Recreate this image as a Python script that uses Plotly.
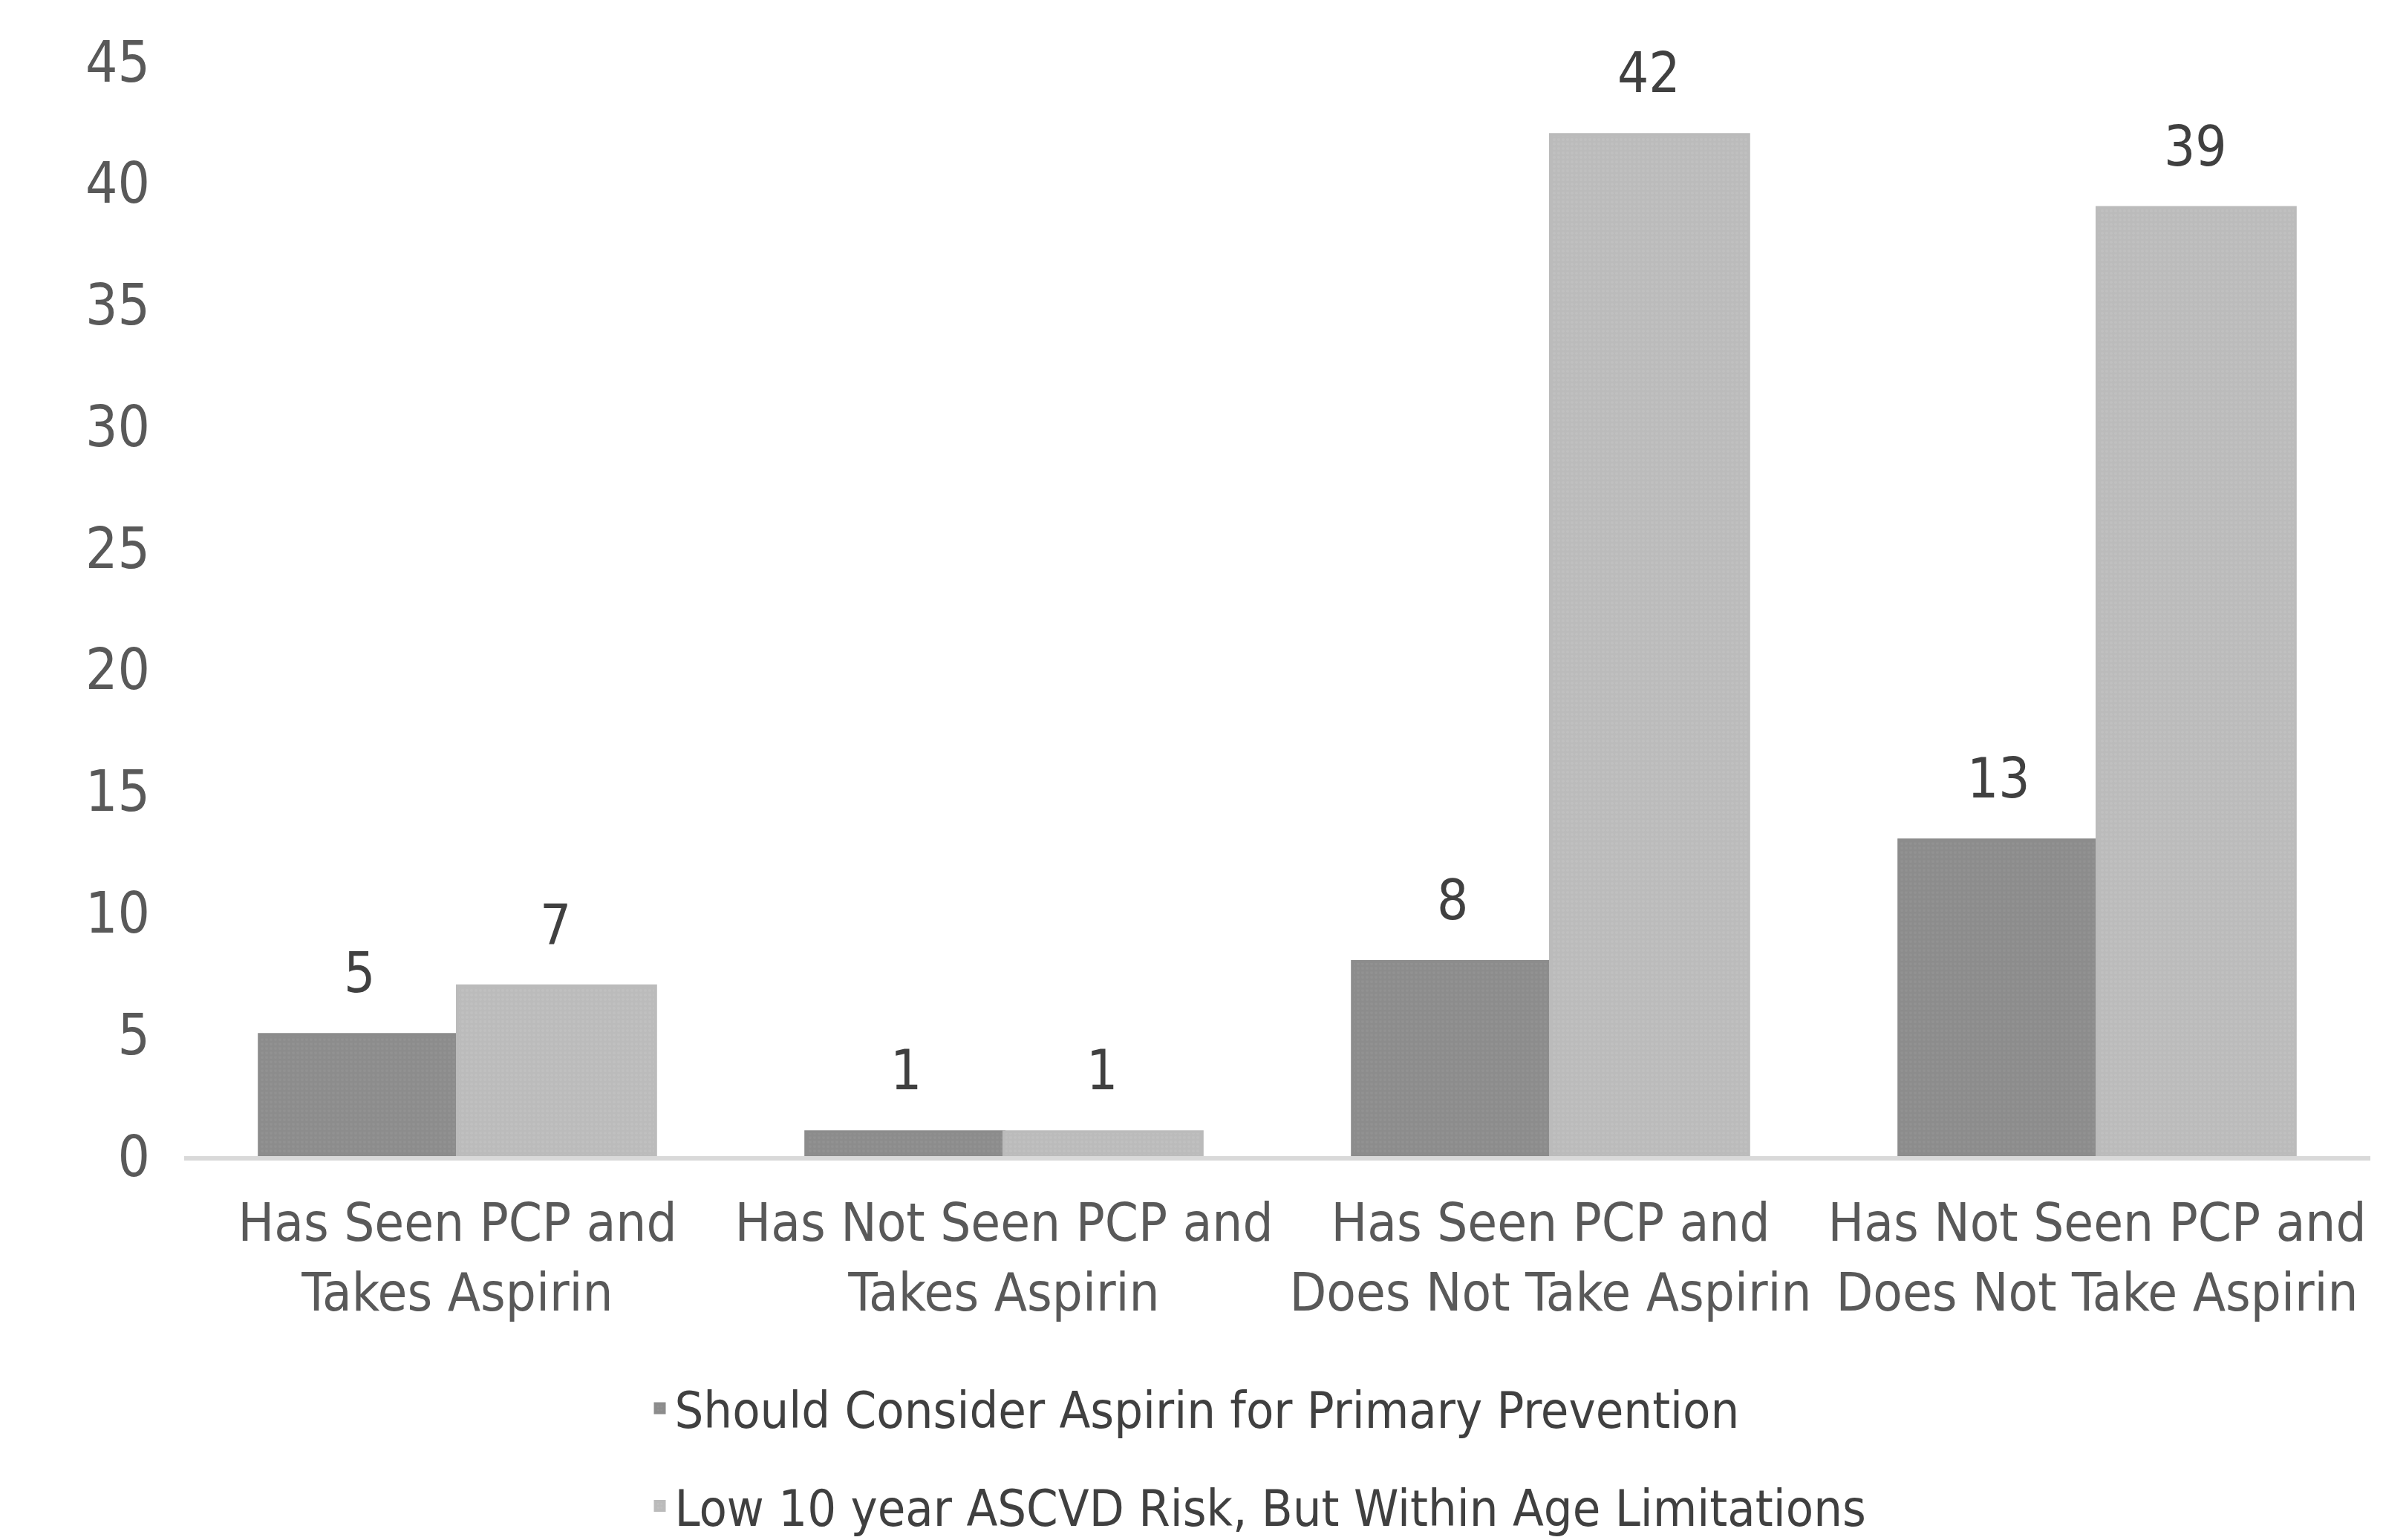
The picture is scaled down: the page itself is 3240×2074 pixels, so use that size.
import plotly.graph_objects as go

# Patient groups along the x axis (two-line tick labels)
categories = [
    "Has Seen PCP and<br>Takes Aspirin",
    "Has Not Seen PCP and<br>Takes Aspirin",
    "Has Seen PCP and<br>Does Not Take Aspirin",
    "Has Not Seen PCP and<br>Does Not Take Aspirin",
]
series_names = [
    "Should Consider Aspirin for Primary Prevention",
    "Low 10 year ASCVD Risk, But Within Age Limitations",
]
should_consider = [5, 1, 8, 13]
low_risk = [7, 1, 42, 39]
y_ticks = [0, 5, 10, 15, 20, 25, 30, 35, 40, 45]

FONT = "Liberation Sans Narrow, Arial Narrow, DejaVu Sans Condensed, sans-serif"

fig = go.Figure()
fig.add_trace(go.Bar(
    x=categories, y=should_consider, name=series_names[0],
    marker=dict(color="#8c8c8c", line=dict(width=4, color="#8c8c8c"),
                pattern=dict(shape=".", fgcolor="#979797", size=6, solidity=0.3)),
    legendgroup="a",
))
fig.add_trace(go.Bar(
    x=categories, y=low_risk, name=series_names[1],
    marker=dict(color="#bbbbbb", line=dict(width=4, color="#bbbbbb"),
                pattern=dict(shape=".", fgcolor="#c6c6c6", size=6, solidity=0.3)),
    legendgroup="b",
))

# Value labels above each bar
for offset, vals in ((-0.18, should_consider), (0.18, low_risk)):
    for i, v in enumerate(vals):
        fig.add_annotation(
            x=i + offset, y=v, text=str(v), showarrow=False,
            yanchor="bottom", yshift=38,
            font=dict(family=FONT, size=74, color="#404040"),
        )

fig.update_layout(
    width=3240, height=2074,
    paper_bgcolor="white", plot_bgcolor="white",
    margin=dict(l=248, r=48, t=83, b=517, autoexpand=False),
    barmode="group", bargap=0.275, bargroupgap=0,
    font=dict(family=FONT, size=72, color="#595959"),
    showlegend=True,
    legend=dict(
        orientation="v", xanchor="center", x=0.491,
        yanchor="top", y=-0.196, traceorder="grouped", tracegroupgap=40,
        font=dict(family=FONT, size=68, color="#404040"),
        itemwidth=30, bgcolor="rgba(0,0,0,0)",
    ),
)
fig.update_xaxes(
    showline=True, linecolor="#d9d9d9", linewidth=6,
    showgrid=False, ticks="", ticklabelstandoff=22,
    tickfont=dict(family=FONT, size=72, color="#595959"),
)
fig.update_yaxes(
    range=[0, 45], tickvals=y_ticks, showgrid=False, zeroline=False,
    showline=False, ticks="", ticklabelstandoff=45,
    tickfont=dict(family=FONT, size=76, color="#595959"),
)

fig.write_html("out.html")
